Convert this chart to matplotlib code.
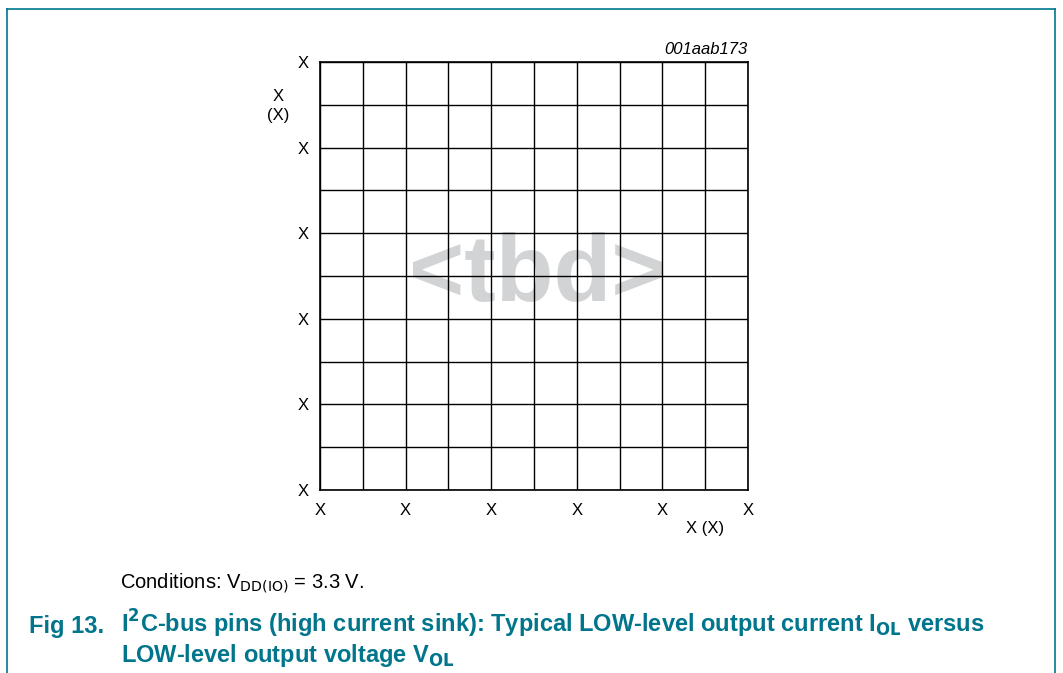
import numpy as np
import matplotlib.pyplot as plt

plt.rcParams['font.family'] = ['Liberation Sans', 'DejaVu Sans']

# === Axis data (placeholder chart, all labels are "X") ===
x_grid = [0, 1, 2, 3, 4, 5, 6, 7, 8, 9, 10]
y_grid = [0, 1, 2, 3, 4, 5, 6, 7, 8, 9, 10]
x_ticks = [0, 2, 4, 6, 8, 10]
y_ticks = [0, 2, 4, 6, 8, 10]
x_tick_labels = ["X", "X", "X", "X", "X", "X"]
y_tick_labels = ["X", "X", "X", "X", "X", "X"]
x_label = "X (X)"
y_label = "X\n(X)"
fig_code = "001aab173"
teal = "#00758c"

fig = plt.figure(figsize=(10.63, 6.73), dpi=100)
W, H = 1063, 673

# frame around the figure (open at the bottom)
fig.add_artist(plt.Line2D([7 / W, 7 / W], [0, 1 - 9 / H], color=teal, lw=1.2))
fig.add_artist(plt.Line2D([7 / W, 1055 / W], [1 - 9 / H, 1 - 9 / H], color=teal, lw=1.2))
fig.add_artist(plt.Line2D([1055 / W, 1055 / W], [0, 1 - 9 / H], color=teal, lw=1.2))

ax = fig.add_axes([320 / W, 1 - 490 / H, 428 / W, 428 / H])
ax.set_xlim(x_grid[0], x_grid[-1])
ax.set_ylim(y_grid[0], y_grid[-1])
for xv in x_grid:
    ax.axvline(xv, color="black", lw=1.0, zorder=2)
for yv in y_grid:
    ax.axhline(yv, color="black", lw=1.0, zorder=2)
for s in ax.spines.values():
    s.set_linewidth(1.2)

ax.set_xticks(x_ticks)
ax.set_xticklabels(x_tick_labels)
ax.set_yticks(y_ticks)
ax.set_yticklabels(y_tick_labels)
ax.tick_params(length=0, labelsize=12)
ax.tick_params(axis="x", pad=9.5)
ax.tick_params(axis="y", pad=8)

# placeholder watermark
ax.text(5.08, 4.42, "<tbd>", fontsize=68, fontweight="bold", color="#d2d3d5",
        ha="center", va="baseline", zorder=1)

ax.text(1.0, 1.012, fig_code, transform=ax.transAxes, ha="right", va="bottom",
        fontsize=12, style="italic")
fig.text(278 / W, 1 - 106 / H, y_label, ha="center", va="center", fontsize=12,
         linespacing=1.4)
fig.text(705 / W, 1 - 529 / H, x_label, ha="center", va="center", fontsize=12)

fig.text(120 / W, 1 - 588 / H, r"Conditions: V$_{\mathrm{DD(IO)}}$ = 3.3 V.",
         ha="left", va="baseline", fontsize=14.5)
fig.text(104 / W, 1 - 633 / H, "Fig 13.", ha="right", va="baseline", fontsize=17,
         fontweight="bold", color=teal)
fig.text(121 / W, 1 - 633 / H,
         r"I$^{\mathbf{2}}$C-bus pins (high current sink): Typical LOW-level output current I$_{\mathbf{OL}}$ versus",
         ha="left", va="baseline", fontsize=17, fontweight="bold", color=teal)
fig.text(121 / W, 1 - 662 / H, r"LOW-level output voltage V$_{\mathbf{OL}}$",
         ha="left", va="baseline", fontsize=17, fontweight="bold", color=teal)

fig.savefig("out.png", dpi=100)
